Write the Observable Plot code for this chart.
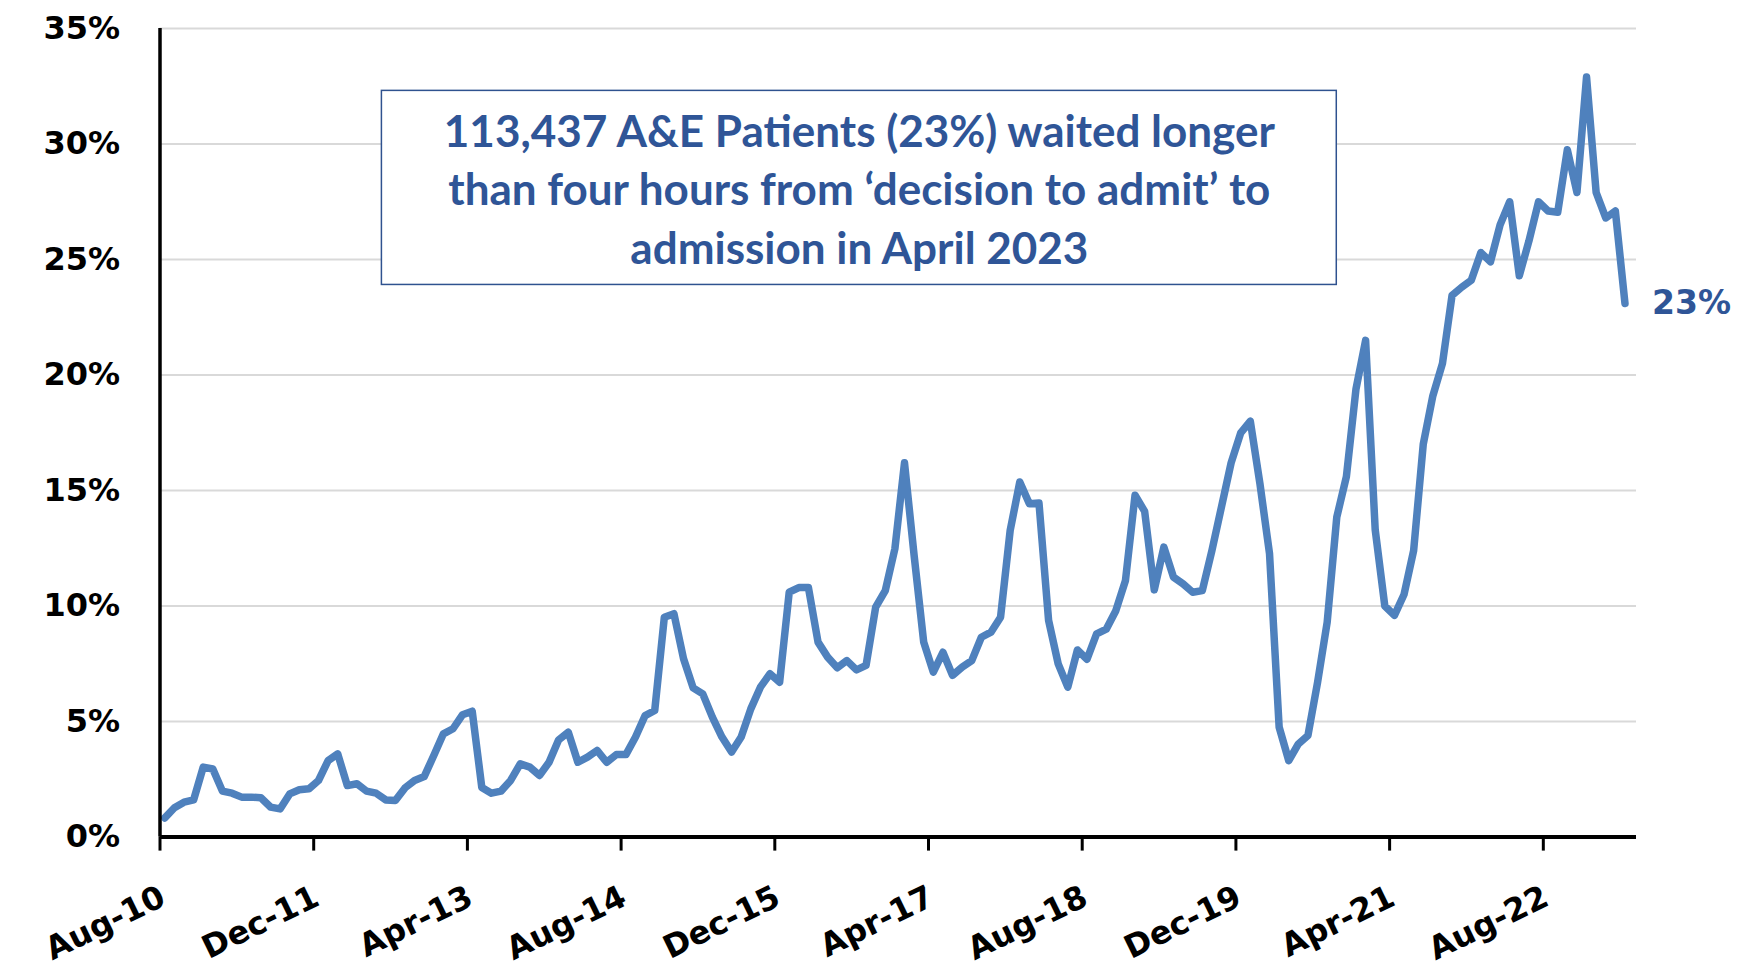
<!DOCTYPE html>
<html>
<head>
<meta charset="utf-8">
<script src="https://cdn.jsdelivr.net/npm/d3@7"></script>
<script src="https://cdn.jsdelivr.net/npm/@observablehq/plot@0.6"></script>
<style>
  html, body { margin: 0; padding: 0; background: #ffffff; }
  #chart svg { display: block; }
</style>
</head>
<body>
<div id="chart"></div>
<script>
// ---- Data: share of A&E admissions waiting > 4h from decision to admit (monthly, Aug-10 .. Apr-23)
const firstMonth = "2010-08";
const values = [
  0.83,1.27,1.51,1.61,3.03,2.95,1.99,1.90,1.73,1.73,
  1.70,1.30,1.22,1.87,2.05,2.09,2.45,3.31,3.60,2.23,
  2.31,1.99,1.90,1.61,1.58,2.13,2.45,2.62,3.53,4.47,
  4.69,5.30,5.45,2.15,1.90,1.99,2.45,3.17,3.03,2.67,
  3.24,4.21,4.54,3.24,3.46,3.75,3.24,3.57,3.57,4.33,
  5.26,5.48,9.52,9.67,7.72,6.46,6.20,5.19,4.33,3.68,
  4.33,5.55,6.49,7.07,6.70,10.6,10.8,10.8,8.44,7.79,
  7.33,7.64,7.24,7.43,9.95,10.67,12.48,16.2,12.2,8.44,
  7.14,8.0,7.0,7.36,7.64,8.65,8.87,9.52,13.27,15.37,
  14.43,14.46,9.38,7.5,6.49,8.1,7.7,8.8,9.0,9.8,
  11.1,14.8,14.1,10.7,12.55,11.25,10.96,10.6,10.67,12.4,
  14.3,16.2,17.5,18.0,15.3,12.26,4.76,3.31,4.03,4.4,
  6.7,9.3,13.85,15.6,19.4,21.5,13.3,10.0,9.6,10.5,
  12.4,17.0,19.1,20.5,23.45,23.8,24.1,25.3,24.9,26.5,
  27.5,24.3,25.8,27.5,27.1,27.05,29.75,27.9,32.9,27.9,
  26.8,27.1,23.1
];
const tickMonths = [0, 16, 32, 48, 64, 80, 96, 112, 128, 144];
const tickLabels = ["Aug-10","Dec-11","Apr-13","Aug-14","Dec-15","Apr-17","Aug-18","Dec-19","Apr-21","Aug-22"];
const yTicks = [0, 5, 10, 15, 20, 25, 30, 35];
const annotationText = "113,437 A&E Patients (23%) waited longer\nthan four hours from \u2018decision to admit\u2019 to\nadmission in April 2023";
const endLabel = "23%";

// ---- Annotation box placement (in data units: months, percent)
const boxMonths = [23.1, 122.5];
const boxPercent = [23.9, 32.3];
const textCenterPercent = 28.15;

// ---- Build table
const start = new Date(firstMonth + "-01T00:00:00Z");
const data = values.map((v, i) => ({
  month: d3.utcMonth.offset(start, i),
  pos: i + 0.5,          // points sit in the middle of each month slot
  value: v
}));
const last = data[data.length - 1];

const blue = "#4f81bd";
const textBlue = "#2f5597";

const chart = Plot.plot({
  width: 1749,
  height: 974,
  marginLeft: 159.5,
  marginRight: 113,
  marginTop: 28,
  marginBottom: 137.4,
  style: {fontFamily: "DejaVu Sans", fontWeight: "bold", fontSize: "32px", color: "#000", background: "#fff"},
  x: {type: "linear", domain: [0, 153.7], label: null},
  y: {domain: [0, 35], label: null},
  marks: [
    Plot.gridY(yTicks, {stroke: "#d9d9d9", strokeOpacity: 1, strokeWidth: 2}),
    Plot.line(data, {x: "pos", y: "value", stroke: blue, strokeWidth: 7.5, strokeLinejoin: "round", strokeLinecap: "round"}),
    Plot.ruleX([0], {stroke: "#000", strokeWidth: 3.5}),
    Plot.ruleY([0], {stroke: "#000", strokeWidth: 4}),
    Plot.axisY({ticks: yTicks, tickSize: 0, tickPadding: 40, tickFormat: d => d + "%", fill: "#000", label: null}),
    // tick marks
    Plot.axisX({ticks: tickMonths, tickSize: 14, strokeWidth: 3, tickFormat: () => "", label: null}),
    // rotated tick labels
    Plot.axisX({ticks: tickMonths, tickSize: 0, tickPadding: 58, tickRotate: -26, dx: 3,
      tickFormat: d => tickLabels[tickMonths.indexOf(d)], fill: "#000", label: null}),
    Plot.rect([{}], {x1: boxMonths[0], x2: boxMonths[1], y1: boxPercent[0], y2: boxPercent[1],
      fill: "#fff", stroke: "#2f528f", strokeWidth: 1.5}),
    Plot.text([annotationText], {x: (boxMonths[0] + boxMonths[1]) / 2, y: textCenterPercent,
      text: d => d, fill: textBlue, fontFamily: "Lato", fontWeight: "bold", fontSize: 44, lineHeight: 1.33}),
    Plot.text([last], {x: "pos", y: "value", text: () => endLabel, dx: 27, textAnchor: "start",
      fill: textBlue, fontFamily: "DejaVu Sans", fontWeight: "bold", fontSize: 33})
  ]
});
document.getElementById("chart").appendChild(chart);
</script>
</body>
</html>
